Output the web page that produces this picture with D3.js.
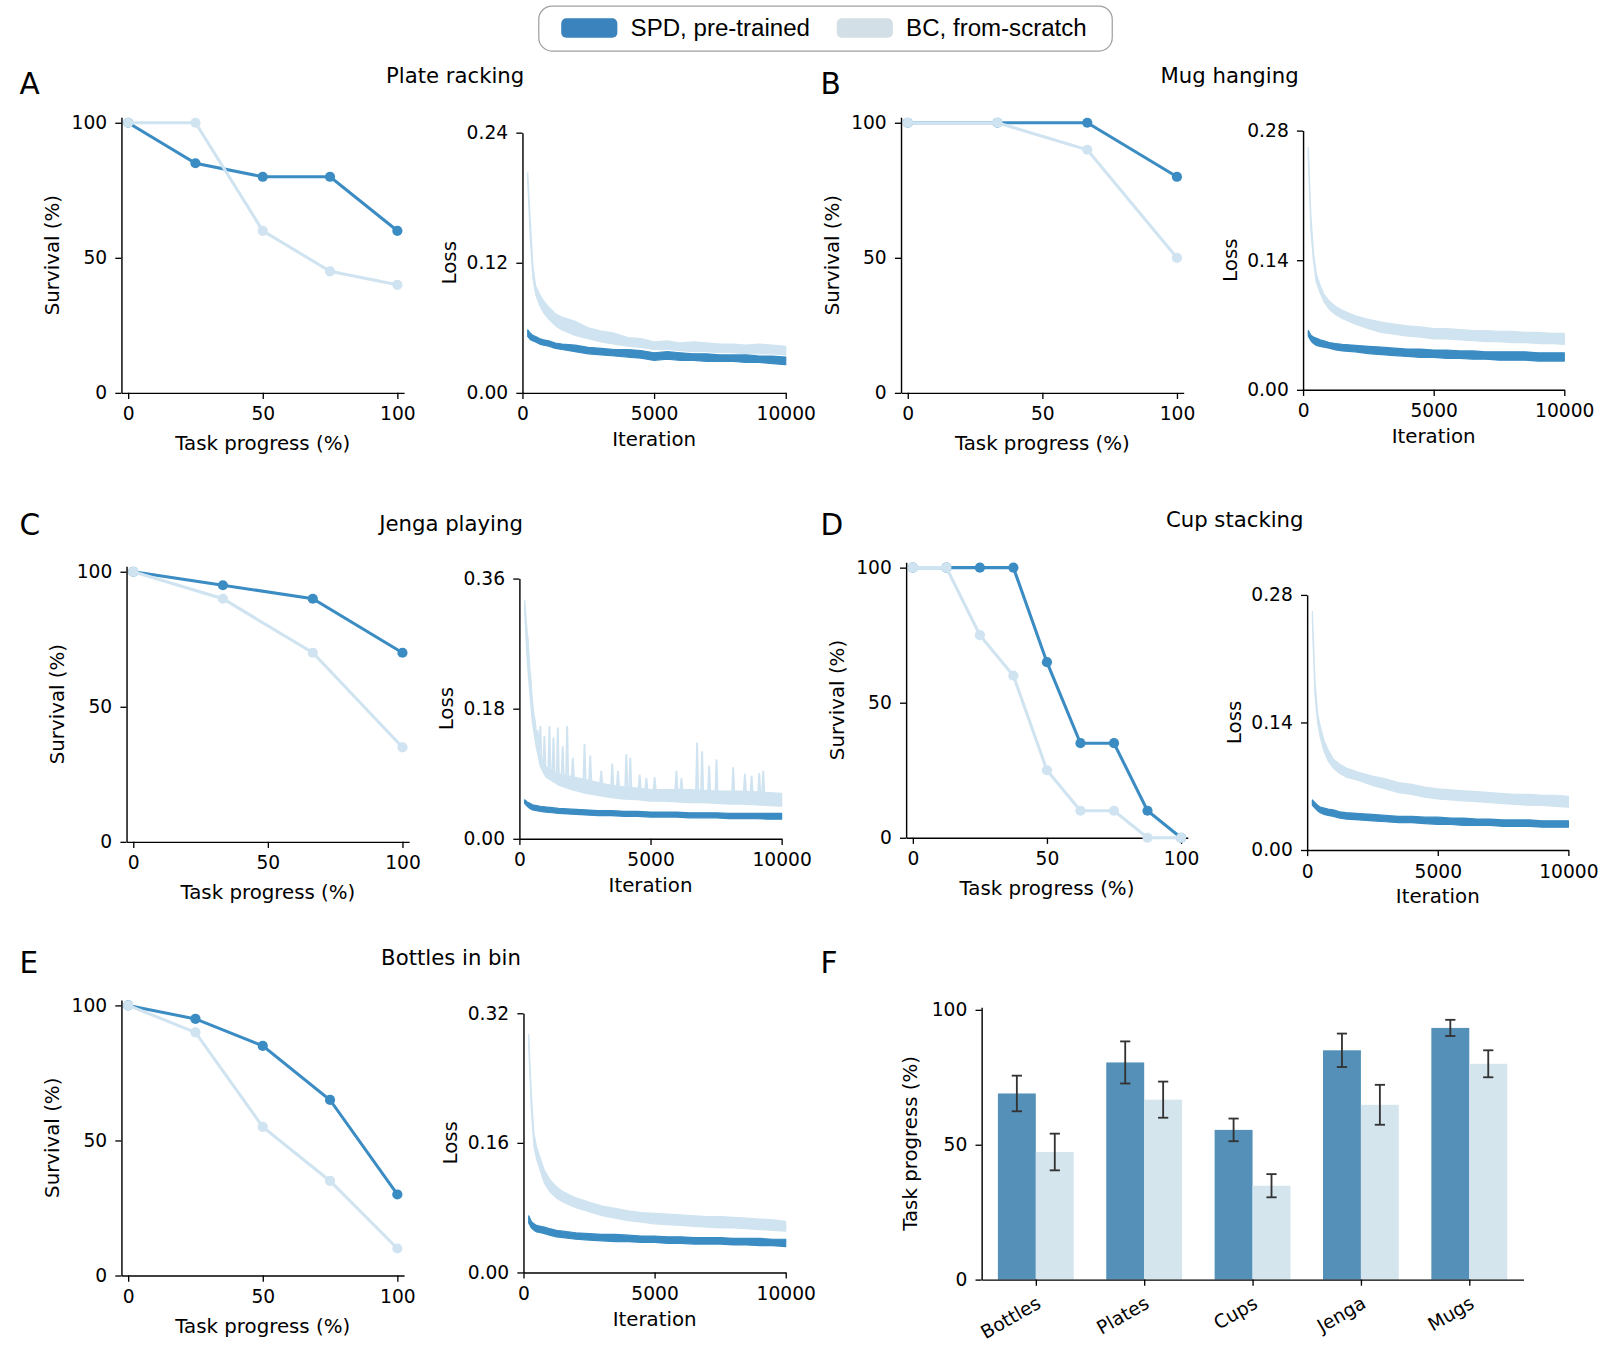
<!DOCTYPE html>
<html>
<head>
<meta charset="utf-8">
<script src="https://cdn.jsdelivr.net/npm/d3@7"></script>
<style>
  body { margin: 0; background: #fff; }
  text { font-family: "DejaVu Sans", sans-serif; fill: #000; }
</style>
</head>
<body>
<script>
// ---- data ----
var seriesNames = ["SPD, pre-trained", "BC, from-scratch"];
var taskTicks = [0, 50, 100];
var iterTicks = [0, 5000, 10000];

// survival curves (task progress %, survival %)
var plateX = [0, 25, 50, 75, 100];
var plateSPD = [100, 85, 80, 80, 60];
var plateBC = [100, 100, 60, 45, 40];

var mugX = [0, 33.3, 66.7, 100];
var mugSPD = [100, 100, 100, 80];
var mugBC = [100, 100, 90, 50];

var jengaX = [0, 33.3, 66.7, 100];
var jengaSPD = [100, 95, 90, 70];
var jengaBC = [100, 90, 70, 35];

var cupX = [0, 12.5, 25, 37.5, 50, 62.5, 75, 87.5, 100];
var cupSPD = [100, 100, 100, 100, 65, 35, 35, 10, 0];
var cupBC = [100, 100, 75, 60, 25, 10, 10, 0, 0];

var bottleX = [0, 25, 50, 75, 100];
var bottleSPD = [100, 95, 85, 65, 30];
var bottleBC = [100, 90, 55, 35, 10];

// training loss, low/high edge of the noisy trace at these iterations
var lossIters = [200, 300, 400, 500, 650, 800, 1000, 1250, 1500, 2000, 2500, 3000, 3500,
                 4000, 4500, 5000, 5500, 6000, 6500, 7000, 7500, 8000, 8500, 9000, 9500, 10000];

var plateLossTicks = [0, 0.12, 0.24];
var plateSpdHi = [.058,.055,.053,.052,.050,.049,.048,.046,.045,.044,.042,.041,.040,.040,.039,.037,.038,.037,.036,.036,.035,.035,.035,.034,.034,.033];
var plateSpdLo = [.052,.049,.048,.047,.045,.044,.043,.041,.040,.038,.036,.035,.034,.033,.032,.030,.031,.030,.030,.029,.029,.029,.028,.028,.027,.026];
var plateBcHi = [.203,.158,.116,.099,.091,.085,.079,.073,.070,.066,.060,.057,.055,.051,.050,.047,.048,.046,.047,.046,.045,.045,.044,.045,.044,.043];
var plateBcLo = [.196,.142,.105,.091,.081,.074,.068,.062,.058,.053,.050,.047,.045,.043,.042,.040,.040,.039,.038,.038,.037,.037,.036,.036,.036,.035];

var mugLossTicks = [0, 0.14, 0.28];
var mugSpdHi = [.064,.059,.057,.056,.054,.053,.051,.050,.049,.048,.047,.046,.045,.044,.044,.043,.043,.042,.042,.041,.041,.041,.041,.040,.040,.040];
var mugSpdLo = [.058,.053,.050,.048,.047,.046,.045,.043,.042,.041,.039,.038,.037,.036,.035,.035,.034,.034,.033,.033,.032,.032,.032,.031,.031,.031];
var mugBcHi = [.262,.188,.148,.126,.113,.103,.096,.090,.086,.080,.076,.073,.071,.069,.068,.066,.066,.065,.064,.064,.063,.063,.062,.062,.061,.061];
var mugBcLo = [.250,.172,.139,.117,.105,.095,.087,.081,.077,.071,.066,.062,.060,.058,.057,.055,.055,.054,.053,.052,.052,.051,.051,.050,.050,.049];

var jengaLossTicks = [0, 0.18, 0.36];
var jengaSpdHi = [.054,.051,.049,.047,.046,.045,.044,.043,.042,.041,.040,.039,.039,.038,.038,.037,.037,.037,.036,.036,.036,.035,.035,.035,.035,.035];
var jengaSpdLo = [.049,.045,.042,.040,.039,.038,.037,.036,.035,.034,.033,.032,.032,.031,.031,.030,.030,.030,.029,.029,.029,.028,.028,.028,.027,.027];
var jengaBcHi = [.330,.285,.236,.190,.140,.115,.100,.094,.090,.086,.082,.078,.074,.072,.070,.068,.068,.068,.068,.067,.066,.066,.066,.065,.064,.063];
var jengaBcLo = [.315,.245,.200,.160,.125,.100,.086,.080,.074,.068,.063,.060,.057,.055,.054,.052,.052,.051,.050,.050,.049,.048,.048,.047,.046,.045];
var jengaSpikeIters = [350, 450, 600, 700, 800, 955, 1146, 1300, 1465, 1650, 1822, 2038, 2484, 2701, 3121, 3541, 3758, 4076, 4229,
                       4586, 4841, 5159, 5987, 6178, 6777, 6968, 7236, 7516, 8153, 8599, 8854, 9146, 9299];
var jengaSpikePeaks = [.250, .195, .160, .150, .156, .142, .156, .140, .154, .128, .156, .112, .131, .115, .094, .104, .094, .117, .112,
                       .089, .084, .085, .094, .084, .133, .121, .101, .110, .099, .090, .087, .091, .094];

var cupLossTicks = [0, 0.14, 0.28];
var cupSpdHi = [.055,.052,.049,.047,.046,.045,.044,.042,.041,.040,.039,.038,.037,.037,.036,.036,.035,.035,.034,.034,.033,.033,.033,.032,.032,.032];
var cupSpdLo = [.049,.046,.043,.041,.039,.038,.037,.035,.034,.033,.032,.031,.030,.030,.029,.028,.028,.027,.027,.027,.026,.026,.026,.025,.025,.025];
var cupBcHi = [.262,.185,.150,.136,.120,.110,.100,.094,.090,.085,.081,.078,.074,.072,.069,.067,.066,.065,.064,.063,.062,.061,.061,.060,.060,.059];
var cupBcLo = [.250,.170,.140,.124,.108,.098,.090,.084,.080,.076,.071,.067,.063,.061,.058,.056,.055,.054,.053,.052,.051,.050,.049,.049,.048,.047];

var bottleLossTicks = [0, 0.16, 0.32];
var bottleSpdHi = [.070,.063,.060,.058,.057,.056,.054,.052,.051,.049,.048,.047,.047,.046,.045,.045,.044,.044,.043,.043,.043,.042,.042,.042,.041,.041];
var bottleSpdLo = [.061,.055,.052,.050,.049,.048,.046,.044,.043,.041,.040,.039,.038,.038,.037,.037,.036,.036,.035,.035,.035,.034,.034,.033,.033,.032];
var bottleBcHi = [.294,.220,.171,.155,.140,.126,.115,.106,.100,.092,.087,.082,.079,.076,.074,.073,.072,.071,.070,.069,.069,.068,.067,.066,.065,.063];
var bottleBcLo = [.280,.200,.155,.140,.125,.110,.100,.092,.087,.080,.075,.070,.067,.064,.062,.060,.059,.058,.057,.056,.055,.055,.054,.053,.052,.051];

// panel F: mean task progress with error bars
var tasks = ["Bottles", "Plates", "Cups", "Jenga", "Mugs"];
var progressSPD = [69, 80.5, 55.5, 85, 93.3];
var progressSPDErr = [6.6, 7.8, 4.2, 6.2, 3];
var progressBC = [47.3, 66.7, 34.8, 64.8, 80];
var progressBCErr = [6.8, 6.7, 4.3, 7.4, 5];

// ---- style ----
var SPD_COLOR = "#3b8cc3", BC_COLOR = "#cfe3f0";
var SPD_BAR = "#5490b7", BC_BAR = "#d5e5ee";
var TICK_FONT = "18.3px", LABEL_FONT = "19.4px";

// layout below is measured on a 1568-wide grid, scaled up to the 1600px page
var svg = d3.select("body").append("svg")
    .attr("width", 1600)
    .attr("height", 1360)
    .append("g")
    .attr("transform", "scale(" + (1600 / 1568) + ")");

function styleAxis(g) {
    g.selectAll(".domain").attr("stroke", "#000").attr("stroke-width", 1.4);
    g.selectAll(".tick line").attr("stroke", "#000").attr("stroke-width", 1.3);
    g.selectAll(".tick text").style("font-size", TICK_FONT).style("font-family", "DejaVu Sans");
}

function axes(x, y, xTicks, yTicks, xFmt, yFmt, box) {
    var bottom = box.y + box.h;
    svg.append("g")
        .attr("transform", "translate(0," + bottom + ")")
        .call(d3.axisBottom(x).tickValues(xTicks).tickFormat(xFmt).tickSize(6).tickSizeOuter(0).tickPadding(8))
        .call(styleAxis);
    svg.append("g")
        .attr("transform", "translate(" + box.x + ",0)")
        .call(d3.axisLeft(y).tickValues(yTicks).tickFormat(yFmt).tickSize(6).tickSizeOuter(0).tickPadding(8))
        .call(styleAxis);
}

function axisLabels(box, xText, yText, xOff, yOff) {
    svg.append("text")
        .attr("x", box.x + box.w / 2)
        .attr("y", box.y + box.h + xOff)
        .attr("text-anchor", "middle")
        .style("font-size", LABEL_FONT)
        .text(xText);
    svg.append("text")
        .attr("transform", "translate(" + (box.x - yOff) + "," + (box.y + box.h / 2) + ") rotate(-90)")
        .attr("text-anchor", "middle")
        .style("font-size", LABEL_FONT)
        .text(yText);
}

function survivalPanel(box, xs, spd, bc) {
    var x = d3.scaleLinear().domain([-2.5, 102.5]).range([box.x, box.x + box.w]);
    var y = d3.scaleLinear().domain([0, 102]).range([box.y + box.h, box.y]);
    axes(x, y, taskTicks, taskTicks, d3.format("d"), d3.format("d"), box);
    axisLabels(box, "Task progress (%)", "Survival (%)", 56, 61);

    [[spd, SPD_COLOR], [bc, BC_COLOR]].forEach(function (s) {
        var pts = xs.map(function (v, i) { return [v, s[0][i]]; });
        svg.append("path")
            .datum(pts)
            .attr("fill", "none")
            .attr("stroke", s[1])
            .attr("stroke-width", 3)
            .attr("d", d3.line().x(function (d) { return x(d[0]); }).y(function (d) { return y(d[1]); }));
        svg.append("g").selectAll("circle")
            .data(pts)
            .enter()
            .append("circle")
            .attr("cx", function (d) { return x(d[0]); })
            .attr("cy", function (d) { return y(d[1]); })
            .attr("r", 5)
            .attr("fill", s[1]);
    });
}

function lossPanel(box, ticks, spdLo, spdHi, bcLo, bcHi, spikeIters, spikePeaks) {
    var x = d3.scaleLinear().domain([0, 10000]).range([box.x, box.x + box.w]);
    var y = d3.scaleLinear().domain([0, ticks[2]]).range([box.y + box.h, box.y]);

    function band(lo, hi, color) {
        var rows = lossIters.map(function (it, i) { return { it: it, lo: lo[i], hi: hi[i] }; });
        svg.append("path")
            .datum(rows)
            .attr("fill", color)
            .attr("stroke", color)
            .attr("stroke-width", 1.2)
            .attr("stroke-linejoin", "round")
            .attr("d", d3.area()
                .x(function (d) { return x(d.it); })
                .y0(function (d) { return y(d.lo); })
                .y1(function (d) { return y(d.hi); }));
    }
    band(bcLo, bcHi, BC_COLOR);
    if (spikeIters) {
        var hiAt = function (it) {
            var i = d3.bisectLeft(lossIters, it);
            if (i <= 0) return bcHi[0];
            var t = (it - lossIters[i - 1]) / (lossIters[i] - lossIters[i - 1]);
            return bcHi[i - 1] + t * (bcHi[i] - bcHi[i - 1]);
        };
        svg.append("g").selectAll("path")
            .data(spikeIters.map(function (it, i) { return [it, spikePeaks[i]]; }))
            .enter()
            .append("path")
            .attr("fill", "none")
            .attr("stroke", BC_COLOR)
            .attr("stroke-width", 1.8)
            .attr("d", function (d) {
                return d3.line()([[x(d[0] - 40), y(hiAt(d[0] - 40))], [x(d[0]), y(d[1])], [x(d[0] + 40), y(hiAt(d[0] + 40))]]);
            });
    }
    band(spdLo, spdHi, SPD_COLOR);

    axes(x, y, iterTicks, ticks, d3.format("d"), d3.format(".2f"), box);
    axisLabels(box, "Iteration", "Loss", 52, 65);
}

function header(letter, lx, ly, title, tx, ty) {
    svg.append("text").attr("x", lx).attr("y", ly).style("font-size", "29px").text(letter);
    svg.append("text").attr("x", tx).attr("y", ty).attr("text-anchor", "middle")
        .style("font-size", "20.8px").text(title);
}

// ---- legend ----
var legend = svg.append("g");
legend.append("rect")
    .attr("x", 528).attr("y", 6).attr("width", 562).attr("height", 44).attr("rx", 13)
    .attr("fill", "#fff").attr("stroke", "#a0a0a0").attr("stroke-width", 1.2);
[[550, "#3a83bc"], [820, "#d3dfe6"]].forEach(function (s, i) {
    legend.append("rect")
        .attr("x", s[0]).attr("y", 18).attr("width", 55).attr("height", 19).attr("rx", 5)
        .attr("fill", s[1]);
    legend.append("text")
        .attr("x", s[0] + 68).attr("y", 35)
        .style("font-family", "'Liberation Sans', Arial, sans-serif")
        .style("font-size", "23.6px")
        .text(seriesNames[i]);
});

// ---- panels A-E ----
header("A", 19, 92, "Plate racking", 446, 81);
survivalPanel({ x: 119, y: 115, w: 277, h: 270 }, plateX, plateSPD, plateBC);
lossPanel({ x: 512, y: 130, w: 258, h: 255 }, plateLossTicks, plateSpdLo, plateSpdHi, plateBcLo, plateBcHi);

header("B", 804, 92, "Mug hanging", 1205, 81);
survivalPanel({ x: 883, y: 115, w: 277, h: 270 }, mugX, mugSPD, mugBC);
lossPanel({ x: 1277, y: 128, w: 256, h: 254 }, mugLossTicks, mugSpdLo, mugSpdHi, mugBcLo, mugBcHi);

header("C", 19, 524, "Jenga playing", 442, 520);
survivalPanel({ x: 124, y: 555, w: 277, h: 270 }, jengaX, jengaSPD, jengaBC);
lossPanel({ x: 509, y: 567, w: 257, h: 255 }, jengaLossTicks, jengaSpdLo, jengaSpdHi, jengaBcLo, jengaBcHi,
    jengaSpikeIters, jengaSpikePeaks);

header("D", 804, 524, "Cup stacking", 1210, 516);
survivalPanel({ x: 888, y: 551, w: 276, h: 270 }, cupX, cupSPD, cupBC);
lossPanel({ x: 1281, y: 583, w: 256, h: 250 }, cupLossTicks, cupSpdLo, cupSpdHi, cupBcLo, cupBcHi);

header("E", 19, 954, "Bottles in bin", 442, 946);
survivalPanel({ x: 119, y: 980, w: 277, h: 270 }, bottleX, bottleSPD, bottleBC);
lossPanel({ x: 513, y: 993, w: 257, h: 254 }, bottleLossTicks, bottleSpdLo, bottleSpdHi, bottleBcLo, bottleBcHi);

// ---- panel F: bars ----
header("F", 804, 954, "", 0, 0);
var fBox = { x: 962, y: 987, w: 531, h: 267 };
var fx = d3.scaleLinear().domain([-0.5, 4.5]).range([fBox.x, fBox.x + fBox.w]);
var fy = d3.scaleLinear().domain([0, 101]).range([fBox.y + fBox.h, fBox.y]);
var barW = 0.35;

[[progressSPD, progressSPDErr, SPD_BAR, -barW], [progressBC, progressBCErr, BC_BAR, 0]].forEach(function (s) {
    var g = svg.append("g");
    g.selectAll("rect")
        .data(tasks)
        .enter()
        .append("rect")
        .attr("x", function (d, i) { return fx(i + s[3]); })
        .attr("width", fx(barW) - fx(0))
        .attr("y", function (d, i) { return fy(s[0][i]); })
        .attr("height", function (d, i) { return fy(0) - fy(s[0][i]); })
        .attr("fill", s[2]);
    var eb = g.selectAll(".err")
        .data(tasks)
        .enter()
        .append("g")
        .attr("class", "err")
        .attr("stroke", "#333")
        .attr("stroke-width", 1.8);
    eb.append("line")
        .attr("x1", function (d, i) { return fx(i + s[3] + barW / 2); })
        .attr("x2", function (d, i) { return fx(i + s[3] + barW / 2); })
        .attr("y1", function (d, i) { return fy(s[0][i] - s[1][i]); })
        .attr("y2", function (d, i) { return fy(s[0][i] + s[1][i]); });
    [-1, 1].forEach(function (sign) {
        eb.append("line")
            .attr("x1", function (d, i) { return fx(i + s[3] + barW / 2) - 5; })
            .attr("x2", function (d, i) { return fx(i + s[3] + barW / 2) + 5; })
            .attr("y1", function (d, i) { return fy(s[0][i] + sign * s[1][i]); })
            .attr("y2", function (d, i) { return fy(s[0][i] + sign * s[1][i]); });
    });
});

svg.append("g")
    .attr("transform", "translate(0," + (fBox.y + fBox.h) + ")")
    .call(d3.axisBottom(fx).tickValues(d3.range(tasks.length)).tickFormat(function (i) { return tasks[i]; })
        .tickSize(6).tickSizeOuter(0))
    .call(styleAxis)
    .selectAll(".tick text")
    .attr("text-anchor", "end")
    .attr("x", -8.5)
    .attr("y", 26)
    .attr("dy", 0)
    .attr("transform", "rotate(-30)");
svg.append("g")
    .attr("transform", "translate(" + fBox.x + ",0)")
    .call(d3.axisLeft(fy).tickValues(taskTicks).tickFormat(d3.format("d")).tickSize(6).tickSizeOuter(0).tickPadding(8))
    .call(styleAxis);
svg.append("text")
    .attr("transform", "translate(" + (fBox.x - 63) + "," + (fBox.y + fBox.h / 2) + ") rotate(-90)")
    .attr("text-anchor", "middle")
    .style("font-size", LABEL_FONT)
    .text("Task progress (%)");
</script>
</body>
</html>
